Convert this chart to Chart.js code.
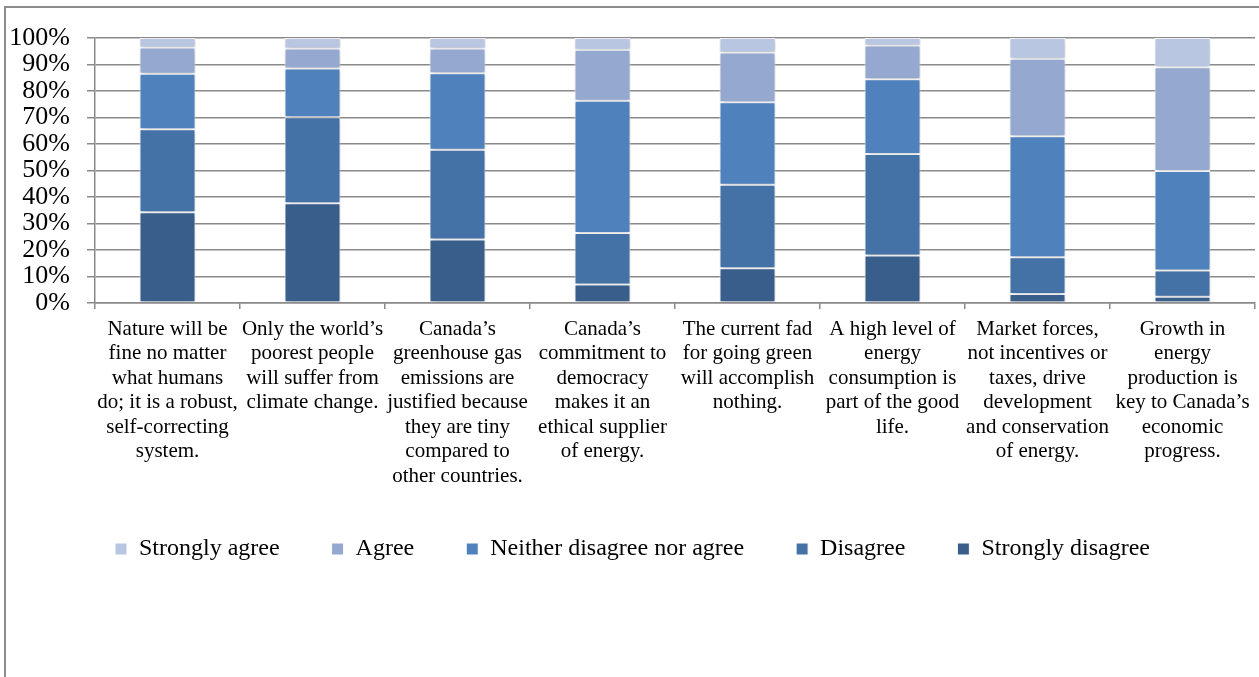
<!DOCTYPE html>
<html>
<head>
<meta charset="utf-8">
<title>Attitudes towards energy and climate</title>
<script src="https://cdn.jsdelivr.net/npm/chart.js@4"></script>
<style>
  html, body { margin: 0; padding: 0; background: #fff; }
  #wrap { position: relative; width: 1259px; height: 677px; overflow: hidden; }
  #frame { position: absolute; left: 4px; top: 6px; right: -10px; bottom: -10px;
           border-left: 2px solid #8c8c8c; border-top: 2px solid #8c8c8c; pointer-events: none; }
  canvas { position: absolute; left: 0; top: 0; }
</style>
</head>
<body>
<div id="wrap">
  <canvas id="chart" width="1259" height="677"></canvas>
  <div id="frame"></div>
</div>
<script>
// statements, one per bar (already broken into lines like the original)
const categories = [
  ["Nature will be", "fine no matter", "what humans", "do; it is a robust,", "self-correcting", "system."],
  ["Only the world’s", "poorest people", "will suffer from", "climate change."],
  ["Canada’s", "greenhouse gas", "emissions are", "justified because", "they are tiny", "compared to", "other countries."],
  ["Canada’s", "commitment to", "democracy", "makes it an", "ethical supplier", "of energy."],
  ["The current fad", "for going green", "will accomplish", "nothing."],
  ["A high level of", "energy", "consumption is", "part of the good", "life."],
  ["Market forces,", "not incentives or", "taxes, drive", "development", "and conservation", "of energy."],
  ["Growth in", "energy", "production is", "key to Canada’s", "economic", "progress."]
];

// shares of responses, in percent
const stronglyDisagree = [34.2, 37.6, 24.0, 7.0, 13.1, 17.9, 3.4, 2.4];
const disagree         = [31.4, 32.5, 33.8, 19.4, 31.5, 38.3, 13.9, 9.9];
const neither          = [20.9, 18.4, 28.9, 49.9, 31.2, 28.2, 45.6, 37.5];
const agree            = [9.9, 7.5, 9.3, 19.3, 18.7, 12.8, 29.3, 39.2];
const stronglyAgree    = [3.6, 4.0, 4.0, 4.4, 5.5, 2.8, 7.8, 11.0];

const yTicks = [0, 10, 20, 30, 40, 50, 60, 70, 80, 90, 100];

const serif = "'Liberation Serif', 'Times New Roman', serif";
const gray = '#8a8a8a';

// soft shadow round the bars, like the office chart
const barShadow = {
  id: 'barShadow',
  beforeDatasetsDraw(chart) {
    const ctx = chart.ctx;
    ctx.save();
    ctx.shadowColor = 'rgba(0,0,0,0.28)';
    ctx.shadowBlur = 5;
    ctx.shadowOffsetX = 1;
    ctx.shadowOffsetY = 1;
  },
  afterDatasetsDraw(chart) {
    chart.ctx.restore();
  }
};

// the long category labels run a bit past the x box, don't cut them off
const unclipX = {
  id: 'unclipX',
  afterLayout(chart) {
    const x = chart.scales.x;
    x.bottom = x.top + 230;
  }
};

function ds(label, data, color) {
  return {
    label: label,
    data: data,
    backgroundColor: color,
    borderColor: '#ffffff',
    borderWidth: 1,
    borderSkipped: false,
    barPercentage: 0.386,
    categoryPercentage: 1.0
  };
}

new Chart(document.getElementById('chart'), {
  type: 'bar',
  data: {
    labels: categories,
    datasets: [
      ds('Strongly disagree', stronglyDisagree, '#3a5e8c'),
      ds('Disagree', disagree, '#4472a6'),
      ds('Neither disagree nor agree', neither, '#4f81bd'),
      ds('Agree', agree, '#95a8cf'),
      ds('Strongly agree', stronglyAgree, '#b9c6e1')
    ]
  },
  plugins: [barShadow, unclipX],
  options: {
    responsive: false,
    animation: false,
    layout: { padding: { left: 10, right: 4, top: 38, bottom: 106 } },
    plugins: {
      legend: {
        position: 'bottom',
        reverse: true,
        labels: {
          font: { family: serif, size: 24 },
          color: '#000',
          boxWidth: 12,
          boxHeight: 12,
          padding: 52
        }
      },
      tooltip: { enabled: false }
    },
    scales: {
      x: {
        stacked: true,
        grid: { drawOnChartArea: false, drawTicks: true, tickLength: 6, color: gray, lineWidth: 1.5 },
        border: { color: gray, width: 1.5 },
        ticks: {
          autoSkip: false,
          maxRotation: 0,
          minRotation: 0,
          color: '#000',
          padding: 8,
          font: { family: serif, size: 21, lineHeight: 1.165 }
        },
        afterFit(scale) { scale.height = 182; }
      },
      y: {
        stacked: true,
        min: 0,
        max: 100,
        afterBuildTicks(scale) { scale.ticks = yTicks.map(v => ({ value: v })); },
        grid: { color: gray, lineWidth: 1.5, tickLength: 8 },
        border: { color: gray, width: 1.5 },
        ticks: {
          autoSkip: false,
          color: '#000',
          padding: 17,
          font: { family: serif, size: 26 },
          callback: v => v + '%'
        },
        afterFit(scale) { scale.width = 85; }
      }
    }
  }
});
</script>
</body>
</html>
